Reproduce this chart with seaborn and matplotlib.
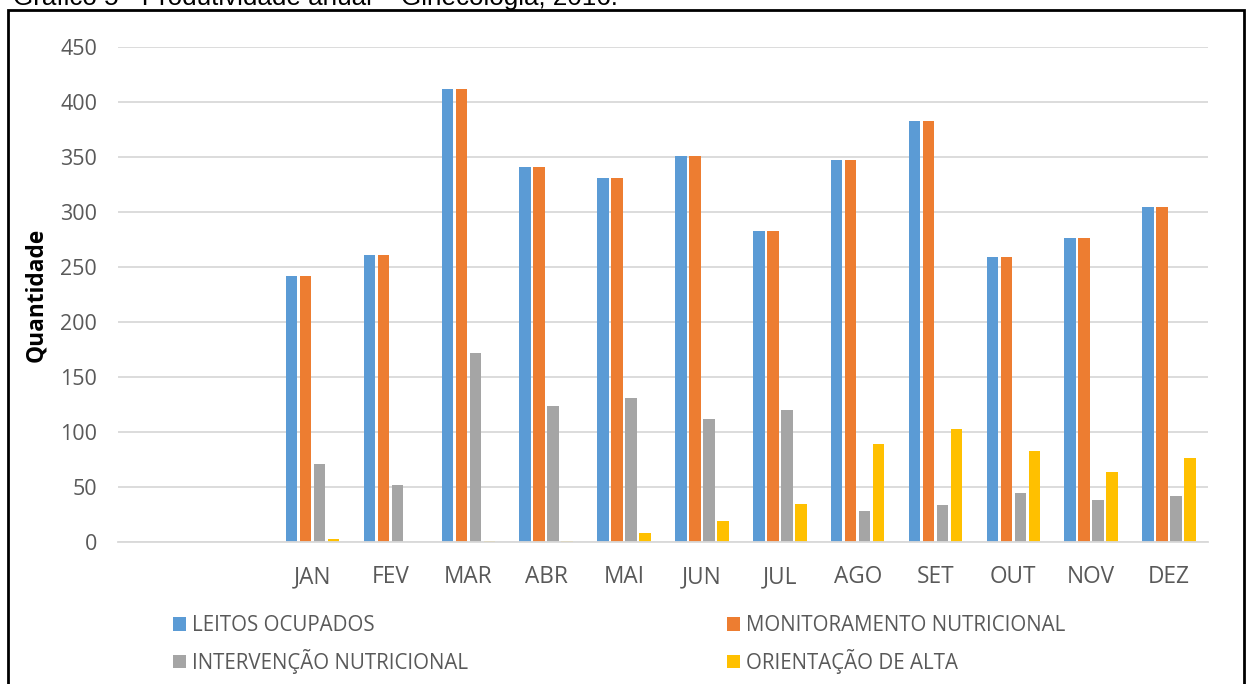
import matplotlib
matplotlib.use("Agg")
import matplotlib.pyplot as plt
import seaborn as sns
import pandas as pd
from matplotlib.patches import Patch, Rectangle

months = ["JAN", "FEV", "MAR", "ABR", "MAI", "JUN", "JUL", "AGO", "SET", "OUT", "NOV", "DEZ"]
blank_slots = ["_b1", "_b2"]
series_names = ["LEITOS OCUPADOS", "MONITORAMENTO NUTRICIONAL",
                "INTERVENÇÃO NUTRICIONAL", "ORIENTAÇÃO DE ALTA"]
leitos = [242, 261, 412, 341, 331, 351, 283, 347, 383, 259, 276, 305]
monitoramento = [242, 261, 412, 341, 331, 351, 283, 347, 383, 259, 276, 305]
intervencao = [71, 52, 172, 124, 131, 112, 120, 28, 34, 45, 38, 42]
orientacao = [3, 0, 1, 1, 8, 19, 35, 89, 103, 83, 64, 76]
colors = ["#5B9BD5", "#ED7D31", "#A5A5A5", "#FFC000"]
yticks = [0, 50, 100, 150, 200, 250, 300, 350, 400, 450]
title = "Gráfico 5 - Produtividade anual – Ginecologia, 2016."

rows = []
for name, vals in zip(series_names, [leitos, monitoramento, intervencao, orientacao]):
    for m, v in zip(months, vals):
        rows.append({"Mês": m, "Série": name, "Quantidade": v})
df = pd.DataFrame(rows)

sns.set_theme(style="white")
plt.rcParams["font.family"] = ["Open Sans", "DejaVu Sans"]

W, H = 1246, 684
fig = plt.figure(figsize=(W / 100, H / 100), dpi=100)
ax = fig.add_axes([118 / W, 1 - 542 / H, (1208 - 118) / W, (542 - 47) / H])

order = blank_slots + months
sns.barplot(data=df, x="Mês", y="Quantidade", hue="Série", order=order,
            hue_order=series_names, palette=colors, width=0.72, gap=0.18,
            linewidth=0, saturation=1, ax=ax, legend=False, errorbar=None)

ax.set_ylim(0, 450)
ax.set_xlim(-0.5, len(order) - 0.5)
ax.set_yticks(yticks)
ax.set_yticklabels([str(t) for t in yticks])
ax.set_xticks(range(len(order)))
ax.set_xticklabels(["", ""] + months)
ax.yaxis.grid(True, color="#D9D9D9", linewidth=1.3)
ax.set_axisbelow(True)
for s in ["top", "right", "left"]:
    ax.spines[s].set_visible(False)
ax.spines["bottom"].set_color("#D9D9D9")
ax.spines["bottom"].set_linewidth(1.3)
ax.tick_params(axis="both", length=0, colors="#595959")
ax.tick_params(axis="y", pad=15, labelsize=15.5)
ax.tick_params(axis="x", pad=16.5, labelsize=16.3)
ax.set_xlabel("")
ax.set_ylabel("")

fig.text(36 / W, 1 - 295 / H, "Quantidade", rotation=90, ha="center", va="center",
         fontsize=16.3, fontweight="bold", color="black")

# Title (cut by top of image, as in the source)
fig.text(13 / W, 1 - 5 / H, title, ha="left", va="baseline",
         fontsize=18.7, color="black", family=["Liberation Sans", "DejaVu Sans"])

# Outer frame
fig.patches.append(Rectangle((8 / W, -0.05), (1244 - 8) / W, 1.05 - 10 / H,
                             transform=fig.transFigure, fill=False,
                             edgecolor="black", linewidth=2))

handles = [Patch(facecolor=c, edgecolor="none") for c in colors]
leg_kw = dict(frameon=False, fontsize=14.8, handlelength=0.64, handleheight=0.64,
              handletextpad=0.3, labelspacing=0.62, borderpad=0, borderaxespad=0,
              loc="upper left", labelcolor="#595959")
fig.legend([handles[0], handles[2]], [series_names[0], series_names[2]],
           bbox_to_anchor=(173 / W, 1 - 615 / H), **leg_kw)
fig.legend([handles[1], handles[3]], [series_names[1], series_names[3]],
           bbox_to_anchor=(727 / W, 1 - 615 / H), **leg_kw)

fig.savefig("out.png", dpi=100)
